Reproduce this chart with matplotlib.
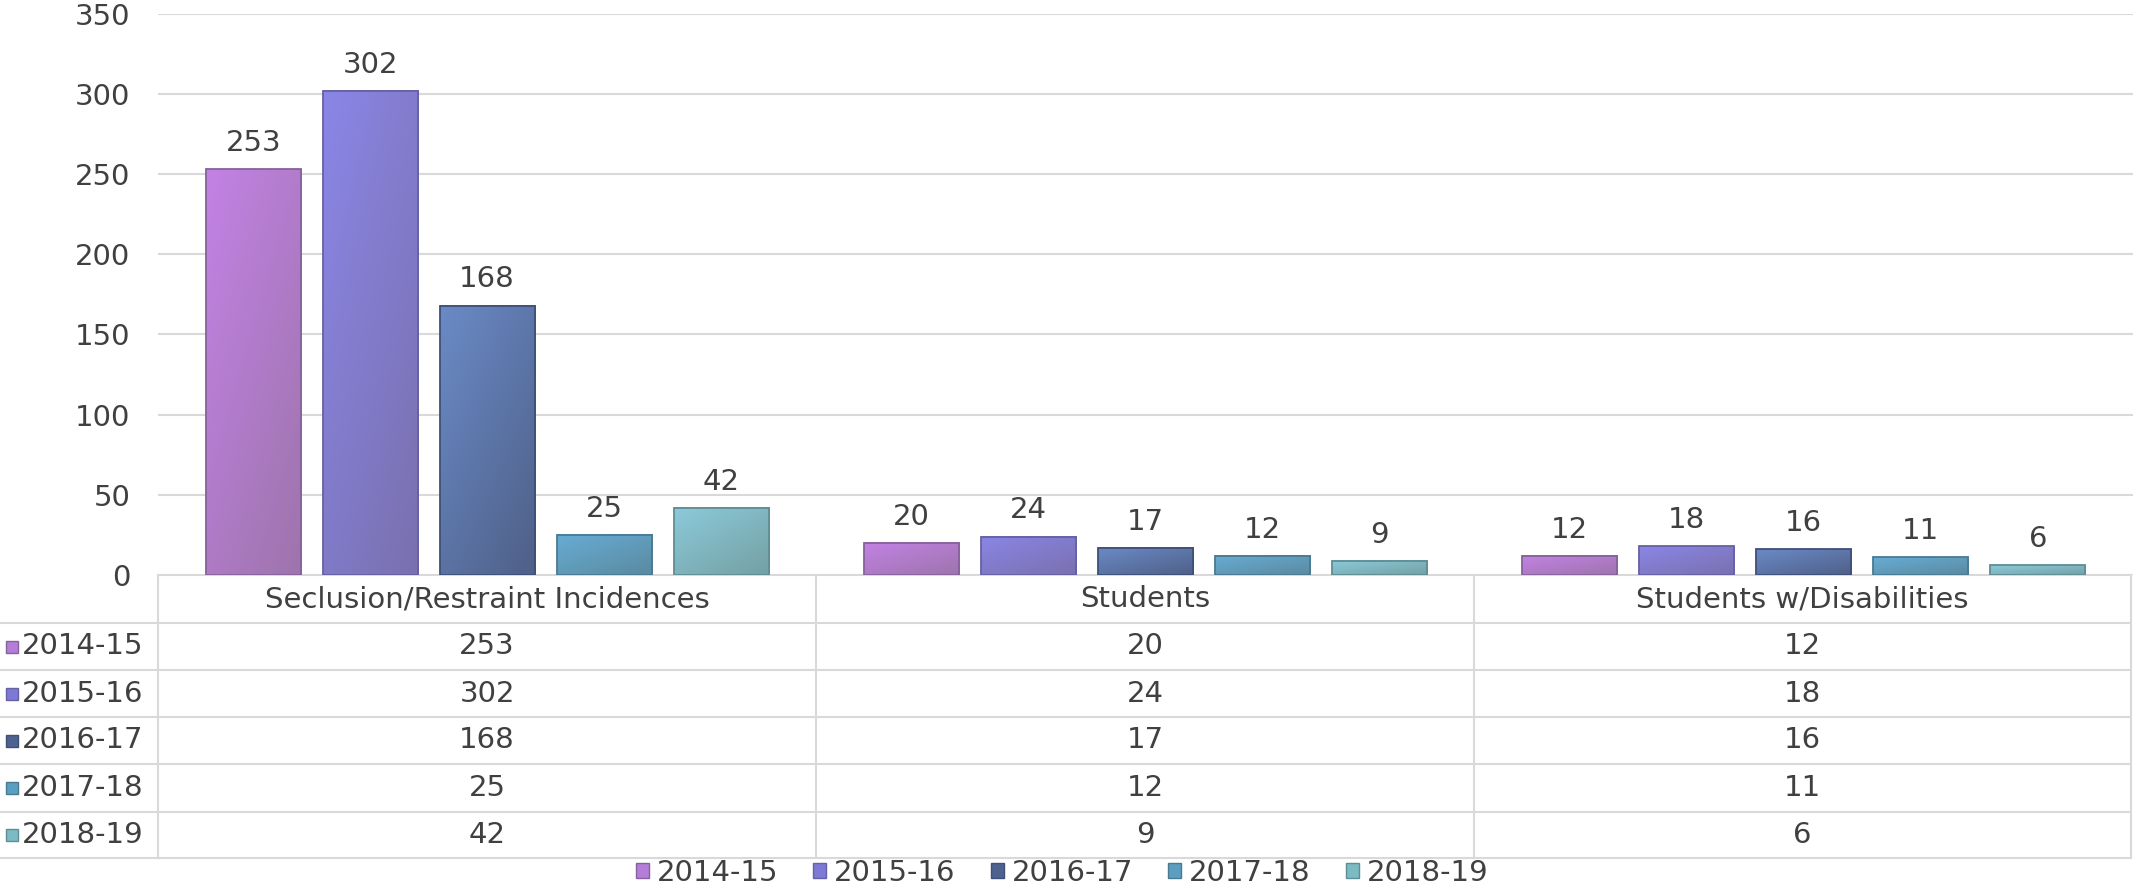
import matplotlib
matplotlib.use("Agg")
import matplotlib.pyplot as plt
import numpy as np
from matplotlib.colors import to_rgb
from matplotlib.patches import Patch

categories = ["Seclusion/Restraint Incidences", "Students", "Students w/Disabilities"]
years = ["2014-15", "2015-16", "2016-17", "2017-18", "2018-19"]
values = {
    "2014-15": [253, 20, 12],
    "2015-16": [302, 24, 18],
    "2016-17": [168, 17, 16],
    "2017-18": [25, 12, 11],
    "2018-19": [42, 9, 6],
}
yticks = [0, 50, 100, 150, 200, 250, 300, 350]

# light (upper left) -> dark (lower right) gradient ends, edge, legend swatch
light = ["#c282e4", "#8a86e6", "#6a8ac6", "#68acd4", "#8ccada"]
dark = ["#9e74ac", "#7a70ae", "#4f6088", "#5a8aa0", "#74a0a4"]
edges = ["#86629c", "#6660a4", "#3e5078", "#4a7a92", "#5e8e94"]
swatch = ["#b47ed8", "#7e78d6", "#4e6290", "#5a9ec0", "#7cbac4"]

TEXT = "#404040"
GRID = "#d9d9d9"
plt.rcParams["font.family"] = ["DejaVu Sans"]
FS = 21

W, H = 2133, 890
fig = plt.figure(figsize=(W / 100, H / 100), dpi=100)

# chart area in pixel terms
px_left, px_top, px_base = 158, 13.6, 575
ax = fig.add_axes([px_left / W, 1 - px_base / H, 1 - px_left / W, (px_base - px_top) / H])
ax.set_xlim(-0.5, 2.5)
ax.set_ylim(0, 350)
ax.set_yticks(yticks)
ax.set_yticklabels([str(v) for v in yticks], fontsize=FS, color=TEXT)
ax.tick_params(axis="y", length=0, pad=20)
ax.set_xticks([])
for side in ["top", "right", "left", "bottom"]:
    ax.spines[side].set_visible(False)
ax.grid(axis="y", color=GRID, linewidth=1.5, zorder=0)
ax.set_axisbelow(True)

bar_w = 0.1446
step = 0.1777
x = np.arange(len(categories))
u = np.linspace(0, 1, 40)
uu, vv = np.meshgrid(u, u)
tgrid = 0.45 * uu + 0.55 * (1 - vv)  # image origin lower -> vv=0 at bottom

for i, year in enumerate(years):
    c0 = np.array(to_rgb(light[i]))
    c1 = np.array(to_rgb(dark[i]))
    img = c0[None, None, :] * (1 - tgrid[..., None]) + c1[None, None, :] * tgrid[..., None]
    xpos = x + (i - 2) * step
    for xc, val in zip(xpos, values[year]):
        ax.imshow(img, extent=(xc - bar_w / 2, xc + bar_w / 2, 0, val), origin="lower",
                  aspect="auto", interpolation="bilinear", zorder=2)
        ax.annotate(str(val), (xc, val), xytext=(0, 13), textcoords="offset points",
                    ha="center", va="baseline", fontsize=FS, color=TEXT)
    ax.bar(xpos, values[year], width=bar_w, facecolor="none", edgecolor=edges[i],
           linewidth=1.3, zorder=3)

ax.set_xlim(-0.5, 2.5)
ax.set_ylim(0, 350)

# data table underneath, drawn in pixel coordinates
tab = fig.add_axes([0, 0, 1, 1], zorder=-1)
tab.set_xlim(0, W)
tab.set_ylim(H, 0)
tab.axis("off")
row_y = [575, 623, 670, 717, 764, 812, 858]
col_x = [158, 816, 1474, 2131]
lw = 1.5
tab.plot([col_x[0], col_x[-1]], [row_y[0], row_y[0]], color=GRID, lw=lw)
for yy in row_y[1:]:
    tab.plot([0, col_x[-1]], [yy, yy], color=GRID, lw=lw)
for xx in col_x:
    tab.plot([xx, xx], [row_y[0], row_y[-1]], color=GRID, lw=lw)

centers = [(col_x[j] + col_x[j + 1]) / 2 for j in range(len(categories))]
for j, cat in enumerate(categories):
    tab.text(centers[j], (row_y[0] + row_y[1]) / 2, cat, ha="center", va="center",
             fontsize=FS, color=TEXT)
for i, year in enumerate(years):
    yc = (row_y[i + 1] + row_y[i + 2]) / 2
    tab.add_patch(plt.Rectangle((6, yc - 6), 12, 12, facecolor=swatch[i],
                                edgecolor=edges[i], lw=1))
    tab.text(22, yc, year, ha="left", va="center", fontsize=FS, color=TEXT)
    for j in range(len(categories)):
        tab.text(centers[j], yc, str(values[year][j]), ha="center", va="center",
                 fontsize=FS, color=TEXT)

handles = [Patch(facecolor=swatch[i], edgecolor=edges[i], label=years[i]) for i in range(len(years))]
fig.legend(handles=handles, loc="center", bbox_to_anchor=(0.498, 1 - 873 / H), ncol=5,
           frameon=False, fontsize=FS, labelcolor=TEXT, handlelength=0.45, handleheight=0.45,
           handletextpad=0.27, columnspacing=1.2, borderpad=0)

fig.savefig("out.png", dpi=100)
